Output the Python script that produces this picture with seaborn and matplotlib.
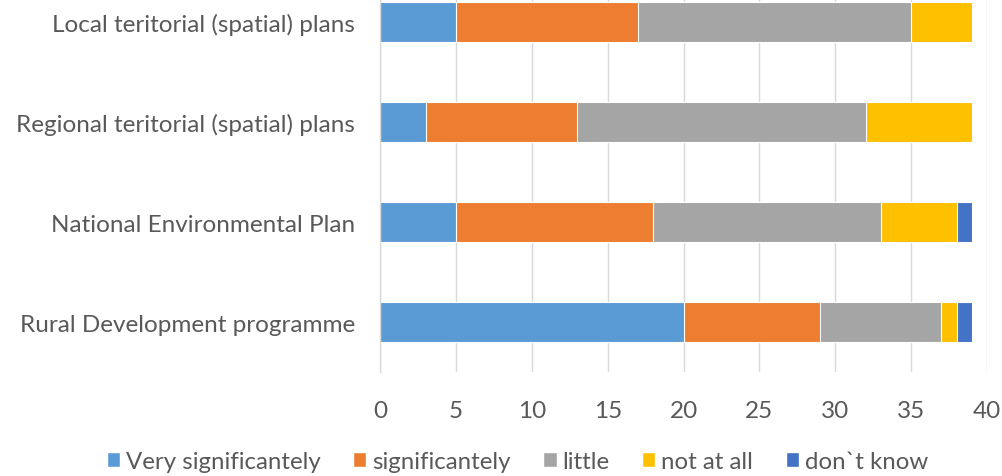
import numpy as np
import pandas as pd
import matplotlib
matplotlib.use("Agg")
import matplotlib.pyplot as plt
import seaborn as sns
from matplotlib.patches import Patch

# Chart data
plans = ["Local teritorial (spatial) plans",
         "Regional teritorial (spatial) plans",
         "National Environmental Plan",
         "Rural Development programme"]
answers = ["Very significantely", "significantely", "little", "not at all", "don`t know"]
very_sig = [5, 3, 5, 20]
sig = [12, 10, 13, 9]
little = [18, 19, 15, 8]
not_at_all = [4, 7, 5, 1]
dont_know = [0, 0, 1, 1]
colors = ["#5B9BD5", "#ED7D31", "#A5A5A5", "#FFC000", "#4472C4"]

sns.set_style("white")
plt.rcParams['font.family'] = ['Lato', 'DejaVu Sans']
text_col = "#595959"

df = pd.DataFrame({"plan": plans, answers[0]: very_sig, answers[1]: sig,
                   answers[2]: little, answers[3]: not_at_all, answers[4]: dont_know})
cum = df[answers].cumsum(axis=1)

fig = plt.figure(figsize=(10.03, 4.77), dpi=100)
ax = fig.add_axes([0.379, 0.218, 0.605, 0.8386])

# draw from the full stack down so each segment sits on top of the previous total
for name, col in reversed(list(zip(answers, colors))):
    sns.barplot(x=cum[name], y=df["plan"], color=col, orient="h", width=0.4,
                edgecolor="white", linewidth=0.8, ax=ax, saturation=1)

ax.set_xlim(0, 40)
ax.set_ylim(3.5, -0.5)
ax.set_xticks(np.arange(0, 41, 5))
ax.set_xlabel("")
ax.set_ylabel("")
ax.grid(axis="x", color="#D9D9D9", linewidth=1)
ax.set_axisbelow(True)
for s in ["top", "right", "bottom"]:
    ax.spines[s].set_visible(False)
ax.spines["left"].set_color("#D9D9D9")
ax.spines["left"].set_linewidth(1)
ax.tick_params(axis="x", length=0, pad=20, labelsize=17.5, labelcolor=text_col)
ax.tick_params(axis="y", which="major", length=0, pad=18, labelsize=17.5, labelcolor=text_col)
ax.set_yticks([-0.5, 0.5, 1.5, 2.5, 3.5], minor=True)
ax.tick_params(axis="y", which="minor", length=6, color="#D9D9D9", width=1)

handles = [Patch(facecolor=c, label=a) for a, c in zip(answers, colors)]
fig.legend(handles=handles, loc="center", bbox_to_anchor=(0.516, 0.03), ncol=5,
           frameon=False, fontsize=17.3, labelcolor=text_col, handlelength=0.55,
           handleheight=0.55, handletextpad=0.25, columnspacing=1.35)

fig.savefig("out.png", dpi=100)
